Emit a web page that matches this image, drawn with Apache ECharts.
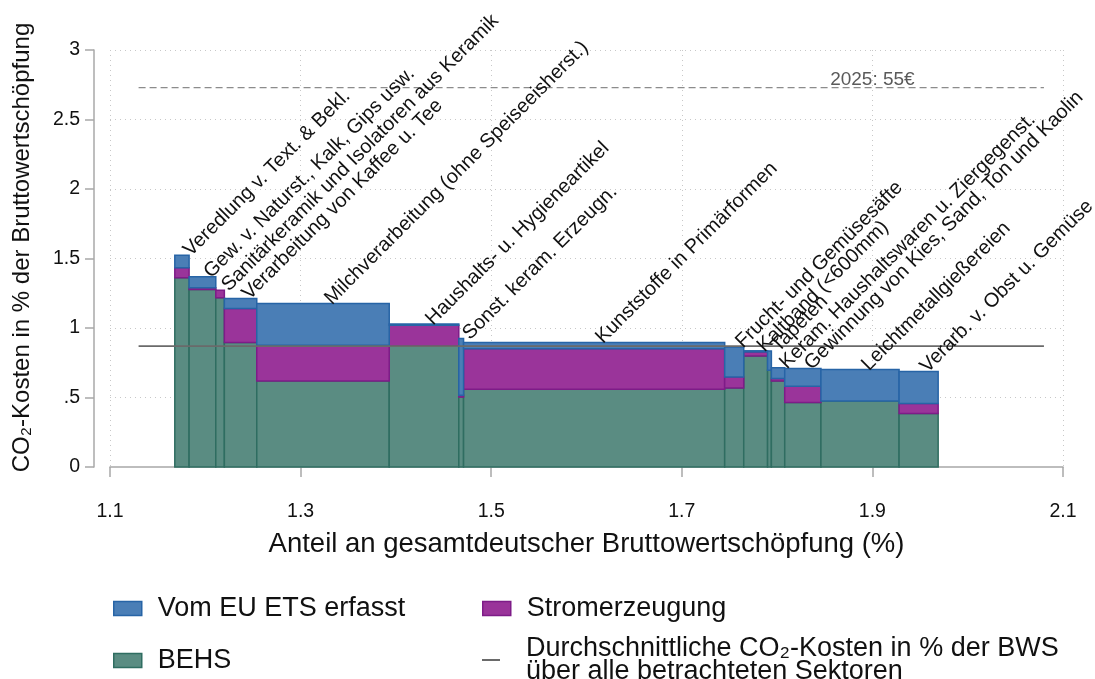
<!DOCTYPE html>
<html>
<head>
<meta charset="utf-8">
<script src="https://cdn.jsdelivr.net/npm/echarts@6/dist/echarts.min.js"></script>
<style>
html, body { margin: 0; padding: 0; background: #fff; }
#chart { width: 1095px; height: 679px; }
</style>
</head>
<body>
<div id="chart"></div>
<script>
// Sektoren (Reihenfolge wie im Bild, links nach rechts)
var sektoren = [
    'Veredlung v. Text. & Bekl.',
    'Gew. v. Naturst., Kalk, Gips usw.',
    'Sanitärkeramik und Isolatoren aus Keramik',
    'Verarbeitung von Kaffee u. Tee',
    'Milchverarbeitung (ohne Speiseeisherst.)',
    'Haushalts- u. Hygieneartikel',
    'Sonst. keram. Erzeugn.',
    'Kunststoffe in Primärformen',
    'Frucht- und Gemüsesäfte',
    'Kaltband (<600mm)',
    'Tapeten',
    'Keram. Haushaltswaren u. Ziergegenst.',
    'Gewinnung von Kies, Sand, Ton und Kaolin',
    'Leichtmetallgießereien',
    'Verarb. v. Obst u. Gemüse'
];
// kumulierter Anteil an der BWS (%) - Kanten der Balken
var anteilKanten = [1.168, 1.183, 1.211, 1.220, 1.254, 1.393, 1.466, 1.471, 1.745,
    1.765, 1.790, 1.794, 1.808, 1.846, 1.928, 1.969];
// CO2-Kosten in % der BWS je Komponente
var behs  = [1.361, 1.277, 1.217, 0.896, 0.619, 0.871, 0.504, 0.559, 0.569, 0.799, 0.696, 0.619, 0.464, 0.475, 0.384];
var strom = [0.072, 0.012, 0.055, 0.244, 0.257, 0.149, 0.012, 0.292, 0.079, 0.029, 0.000, 0.017, 0.117, 0.000, 0.072];
var ets   = [0.091, 0.079, 0.000, 0.072, 0.300, 0.008, 0.408, 0.045, 0.216, 0.008, 0.139, 0.078, 0.127, 0.226, 0.231];
var durchschnitt = 0.87;
var linieVonBis = [1.13, 2.08];
var preis2025 = 2.73;
var preisText = '2025: 55€';
var preisTextX = 1.9;

var schrift = "'Liberation Sans', Arial, sans-serif";
var gruen = '#5a8c82', gruenRand = '#2f6d61';
var lila = '#9a349a', lilaRand = '#7e1c88';
var blau = '#4a7eb6', blauRand = '#2764a6';
var grauLinie = '#6a6a6a';

// gestapelte Segmente bauen
var behsDaten = [], stromDaten = [], etsDaten = [], labelDaten = [];
for (var i = 0; i < sektoren.length; i++) {
    var x0 = anteilKanten[i], x1 = anteilKanten[i + 1];
    var g = behs[i], p = g + strom[i], b = p + ets[i];
    behsDaten.push([x0, x1, 0, g]);
    stromDaten.push([x0, x1, g, p]);
    etsDaten.push([x0, x1, p, b]);
    labelDaten.push([(x0 + x1) / 2, b, sektoren[i]]);
}

function balken(farbe, rand) {
    return function (params, api) {
        var y0 = api.value(2), y1 = api.value(3);
        if (y1 - y0 <= 0) return null;
        var a = api.coord([api.value(0), y1]);
        var c = api.coord([api.value(1), y0]);
        return {
            type: 'rect',
            shape: { x: a[0], y: a[1], width: c[0] - a[0], height: c[1] - a[1] },
            style: { fill: farbe, stroke: rand, lineWidth: 1.5 }
        };
    };
}

var myChart = echarts.init(document.getElementById('chart'));

var legendeText = { fontSize: 27, color: '#111', fontFamily: schrift, padding: [0, 0, 0, 11] };

var option = {
    animation: false,
    textStyle: { fontFamily: schrift },
    grid: { left: 110, right: 32, top: 50, bottom: 212 },
    xAxis: {
        type: 'value',
        min: 1.1, max: 2.1, interval: 0.2,
        offset: 17,
        name: 'Anteil an gesamtdeutscher Bruttowertschöpfung (%)',
        nameLocation: 'middle',
        nameGap: 46,
        nameTextStyle: { fontSize: 27.5, color: '#111', fontFamily: schrift },
        axisLine: { show: true, lineStyle: { color: '#a8a8a8', width: 1.5 } },
        axisTick: { show: true, length: 10, lineStyle: { color: '#a8a8a8', width: 1.5 } },
        axisLabel: {
            fontSize: 19.5, color: '#111', margin: 18,
            formatter: function (v) { return v.toFixed(1); }
        },
        splitLine: { show: true, lineStyle: { color: '#c8c8c8', type: [1, 4], width: 1 } }
    },
    yAxis: {
        type: 'value',
        min: 0, max: 3, interval: 0.5,
        offset: 16,
        name: 'CO₂-Kosten in % der Bruttowertschöpfung',
        nameLocation: 'middle',
        nameRotate: 90,
        nameGap: 60,
        nameTextStyle: { fontSize: 24, color: '#111', fontFamily: schrift, padding: [0, 0, 0, 22] },
        axisLine: { show: true, lineStyle: { color: '#a8a8a8', width: 1.5 } },
        axisTick: { show: true, length: 9, lineStyle: { color: '#a8a8a8', width: 1.5 } },
        axisLabel: {
            fontSize: 19.5, color: '#111', margin: 14,
            formatter: function (v) { return v === 0 ? '0' : String(v).replace(/^0\./, '.'); }
        },
        splitLine: { show: true, showMinLine: false, lineStyle: { color: '#c8c8c8', type: [1, 4], width: 1 } }
    },
    legend: [
        {
            data: [{ name: 'Vom EU ETS erfasst', icon: 'rect', itemStyle: { color: blau, borderColor: blauRand, borderWidth: 1.5 } }],
            left: 108, top: 590, itemWidth: 28, itemHeight: 14, selectedMode: false, textStyle: legendeText
        },
        {
            data: [{ name: 'BEHS', icon: 'rect', itemStyle: { color: gruen, borderColor: gruenRand, borderWidth: 1.5 } }],
            left: 108, top: 642, itemWidth: 28, itemHeight: 14, selectedMode: false, textStyle: legendeText
        },
        {
            data: [{ name: 'Stromerzeugung', icon: 'rect', itemStyle: { color: lila, borderColor: lilaRand, borderWidth: 1.5 } }],
            left: 477, top: 590, itemWidth: 28, itemHeight: 14, selectedMode: false, textStyle: legendeText
        },
        {
            data: [{ name: 'Durchschnitt', icon: 'rect', itemStyle: { color: grauLinie, borderWidth: 0 } }],
            left: 477, top: 630, itemWidth: 18, itemHeight: 2, selectedMode: false,
            formatter: function () {
                return 'Durchschnittliche CO₂-Kosten in % der BWS\nüber alle betrachteten Sektoren';
            },
            textStyle: { fontSize: 27, color: '#111', fontFamily: schrift, padding: [0, 0, 0, 21], lineHeight: 23 }
        }
    ],
    series: [
        { name: 'BEHS', type: 'custom', renderItem: balken(gruen, gruenRand), encode: { x: [0, 1], y: [2, 3] }, data: behsDaten, itemStyle: { color: gruen } },
        { name: 'Stromerzeugung', type: 'custom', renderItem: balken(lila, lilaRand), encode: { x: [0, 1], y: [2, 3] }, data: stromDaten, itemStyle: { color: lila } },
        { name: 'Vom EU ETS erfasst', type: 'custom', renderItem: balken(blau, blauRand), encode: { x: [0, 1], y: [2, 3] }, data: etsDaten, itemStyle: { color: blau } },
        {
            name: 'Durchschnitt', type: 'line', symbol: 'none', z: 5,
            data: [[linieVonBis[0], durchschnitt], [linieVonBis[1], durchschnitt]],
            lineStyle: { color: grauLinie, width: 1.8 }, itemStyle: { color: grauLinie }
        },
        {
            name: 'Preis 2025', type: 'line', symbol: 'none', z: 5,
            data: [[linieVonBis[0], preis2025], [linieVonBis[1], preis2025]],
            lineStyle: { color: '#8c8c8c', width: 1.3, type: [7, 4] }
        },
        {
            name: 'Preistext', type: 'custom', z: 6,
            data: [[preisTextX, preis2025, preisText]],
            renderItem: function (params, api) {
                var p = api.coord([api.value(0), api.value(1)]);
                return {
                    type: 'text', x: p[0], y: p[1] - 8,
                    style: { text: preisText, fill: '#5a5a5a', font: '19px ' + schrift, textAlign: 'center', textVerticalAlign: 'middle' }
                };
            }
        },
        {
            name: 'Beschriftung', type: 'custom', z: 6,
            encode: { x: 0, y: 1 },
            data: labelDaten,
            renderItem: function (params, api) {
                var p = api.coord([api.value(0), api.value(1)]);
                return {
                    type: 'text', x: p[0] + 5, y: p[1] - 2, rotation: Math.PI / 4,
                    style: { text: labelDaten[params.dataIndex][2], fill: '#111', font: '20px ' + schrift, textAlign: 'left', textVerticalAlign: 'middle' }
                };
            }
        }
    ]
};
myChart.setOption(option);
</script>
</body>
</html>
